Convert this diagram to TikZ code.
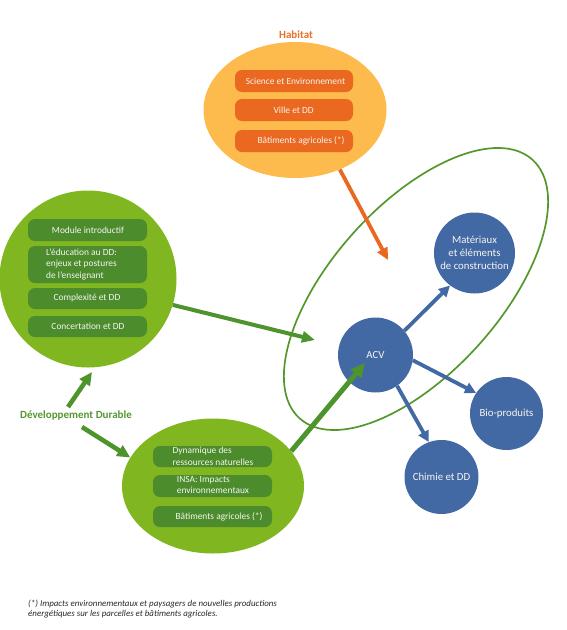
\documentclass[tikz,border=0pt]{standalone}
\usepackage{fontspec}
\setmainfont{Carlito}
\usetikzlibrary{arrows.meta,shapes.geometric}
\definecolor{limeg}{RGB}{128,182,32}
\definecolor{dkgreen}{RGB}{76,140,45}
\definecolor{argreen}{RGB}{77,148,45}
\definecolor{olgreen}{RGB}{84,152,44}
\definecolor{gold}{RGB}{253,186,77}
\definecolor{dkorange}{RGB}{234,104,32}
\definecolor{habtxt}{RGB}{232,112,40}
\definecolor{myblue}{RGB}{67,105,164}
\definecolor{ddtxt}{RGB}{84,150,50}
\definecolor{wtxt}{RGB}{245,245,240}
\begin{document}
\begin{tikzpicture}[x=1pt,y=1pt,
  blob/.style={ellipse, fill=limeg, inner sep=0pt, draw=none},
  gbox/.style={rounded corners=7pt, fill=dkgreen, minimum width=119pt, inner sep=0pt},
  obox/.style={rounded corners=7pt, fill=dkorange, minimum width=118pt, minimum height=22pt, inner sep=0pt},
  btext/.style={text=wtxt, font=\fontsize{9.4}{11.3}\selectfont, align=left, inner sep=0pt},
  bluec/.style={circle, fill=myblue, text=wtxt, font=\fontsize{10.8}{13.3}\selectfont, align=center, inner sep=0pt},
  garrow/.style={draw=argreen, line width=4pt, -{Triangle[length=13pt,width=11pt]}},
  barrow/.style={draw=myblue, line width=3.8pt, -{Triangle[length=11pt,width=11pt]}},
  oarrow/.style={draw=dkorange, line width=3.8pt, -{Triangle[length=12pt,width=11pt]}}
]
\useasboundingbox (0,0) rectangle (566,-630);

% big outline ellipse
\node[ellipse, draw=olgreen, line width=1.7pt, minimum width=348pt, minimum height=168pt, rotate=48, inner sep=0pt] (big) at (416,-289) {};

% Habitat
\node[font=\bfseries\fontsize{11}{13}\selectfont, text=habtxt] (habt) at (296,-35) {Habitat};
\node[ellipse, fill=gold, minimum width=183pt, minimum height=136pt, inner sep=0pt] (hab) at (295,-110) {};
\node[obox] (h1) at (294,-81) {};
\node[obox] (h2) at (294,-110) {};
\node[obox] (h3) at (294,-141) {};
\node[btext] at (295.5,-81) {Science et Environnement};
\node[btext] at (293.7,-110) {Ville et DD};
\node[btext] at (301,-140.5) {Bâtiments agricoles (*)};

% left circle
\node[blob, circle, minimum size=177pt] (lc) at (88,-279) {};
\node[gbox, minimum height=22pt] (l1) at (87.5,-230) {};
\node[gbox, minimum height=37pt] (l2) at (87.5,-264.5) {};
\node[gbox, minimum height=21pt] (l3) at (87.5,-298.5) {};
\node[gbox, minimum height=21pt] (l4) at (87.5,-326.5) {};
\node[btext] at (88,-230) {Module introductif};
\node[btext] at (81.5,-264.3) {L’éducation au DD:\\enjeux et postures\\de l’enseignant};
\node[btext] at (87,-298) {Complexité et DD};
\node[btext] at (88,-326.7) {Concertation et DD};

% bottom ellipse
\node[blob, minimum width=182pt, minimum height=135pt] (be) at (213,-486) {};
\node[gbox, minimum height=21pt] (b1) at (212.5,-456.5) {};
\node[gbox, minimum height=22pt] (b2) at (212.5,-486) {};
\node[gbox, minimum height=21pt] (b3) at (212.5,-516.5) {};
\node[btext] at (213,-456.2) {Dynamique des\\ressources naturelles};
\node[btext] at (213,-485.3) {INSA: Impacts\\environnementaux};
\node[btext] at (219,-516.7) {Bâtiments agricoles (*)};

% Developpement durable
\node[font=\bfseries\fontsize{11}{13}\selectfont, text=ddtxt] (dd) at (76,-415) {Développement Durable};
\coordinate (ddup) at (68,-407);
\coordinate (ddupend) at (92,-372);
\coordinate (dddown) at (82,-427);
\draw[garrow, line width=4.6pt, -{Triangle[length=13pt,width=12pt]}] (ddup) -- (ddupend);
\draw[garrow, line width=4.6pt, -{Triangle[length=13pt,width=12pt]}] (dddown) -- (be.161);

% blue circles
\node[bluec, minimum size=75pt] (acv) at (375.5,-355) {ACV};
\node[bluec, minimum size=81pt] (mat) at (474.5,-253) {Matériaux\\et éléments\\de construction};
\node[bluec, minimum size=73pt] (bio) at (506.5,-413.5) {Bio-produits};
\node[bluec, minimum size=74pt] (chim) at (441.5,-477) {Chimie et DD};

% arrows
\coordinate (otip) at (388,-260);
\coordinate (ltip) at (315,-340);
\coordinate (atip) at (365,-363);
\draw[oarrow] (hab.-53) -- (otip);
\draw[garrow] (lc.-17) -- (ltip);
\draw[garrow, line width=5pt, -{Triangle[length=14pt,width=13pt]}] (be.24) -- (atip);
\draw[barrow] (acv.40) -- (mat.233);
\draw[barrow] (acv.-8) -- (bio.146);
\draw[barrow] (acv.-55) -- (chim.110);

% footnote
\node[anchor=west, align=left, font=\itshape\fontsize{8.9}{10}\selectfont, text=black!85, inner sep=0pt] (fn) at (28,-609.5) {(*) Impacts environnementaux et paysagers de nouvelles productions\\énergétiques sur les parcelles et bâtiments agricoles.};
\end{tikzpicture}
\end{document}
